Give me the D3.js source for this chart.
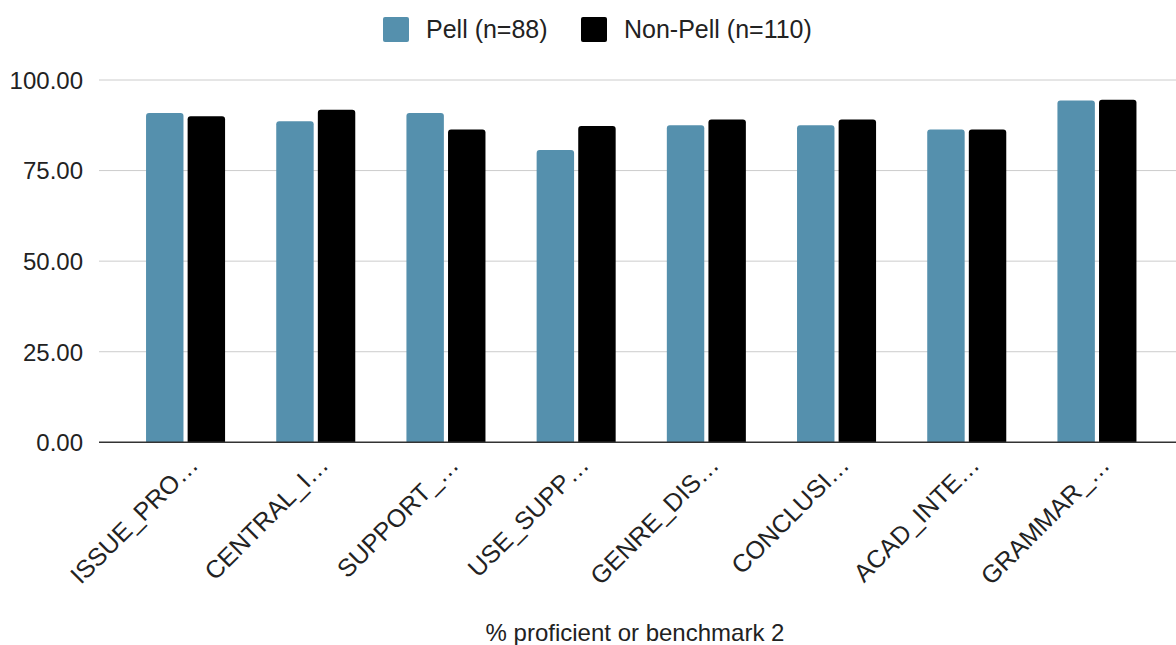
<!DOCTYPE html>
<html>
<head>
<meta charset="utf-8">
<script src="https://cdn.jsdelivr.net/npm/d3@7"></script>
<style>
  html, body { margin: 0; padding: 0; background: #fff; }
  svg { display: block; font-family: "Liberation Sans", Arial, Helvetica, sans-serif; }
</style>
</head>
<body>
<svg id="chart" width="1176" height="645"></svg>
<script>
const categories = ["ISSUE_PRO…", "CENTRAL_I…", "SUPPORT_…", "USE_SUPP…", "GENRE_DIS…", "CONCLUSI…", "ACAD_INTE…", "GRAMMAR_…"];
const seriesNames = ["Pell (n=88)", "Non-Pell (n=110)"];
const pellValues = [90.91, 88.64, 90.91, 80.68, 87.50, 87.50, 86.36, 94.32];
const nonPellValues = [90.00, 91.82, 86.36, 87.27, 89.09, 89.09, 86.36, 94.55];
const yTicks = [0, 25, 50, 75, 100];
const xTitle = "% proficient or benchmark 2";
const colors = ["#5590ad", "#000000"];

const svg = d3.select("#chart");
const plotLeft = 99, plotRight = 1176, baseY = 442.3, topY = 80;
const fontFam = "Liberation Sans, Arial, Helvetica, sans-serif";

const y = d3.scaleLinear().domain([0, 100]).range([baseY, topY]);
const x0 = d3.scaleBand().domain(categories).range([120, 1162.5]).paddingInner(0.393).paddingOuter(0.2);
const x1 = d3.scaleBand().domain(seriesNames).range([0, x0.bandwidth()]).paddingInner(0.1);
const color = d3.scaleOrdinal().domain(seriesNames).range(colors);

// gridlines
svg.append("g").selectAll("line").data(yTicks.filter(t => t > 0)).join("line")
  .attr("x1", plotLeft).attr("x2", plotRight)
  .attr("y1", d => y(d)).attr("y2", d => y(d))
  .attr("stroke", "#cccccc").attr("stroke-width", 1);

// y tick labels
const yAxis = d3.axisLeft(y).tickValues(yTicks).tickFormat(d3.format(".2f")).tickSize(0).tickPadding(0);
const yg = svg.append("g").attr("transform", `translate(83,0)`).call(yAxis);
yg.select(".domain").remove();
yg.selectAll("text").attr("font-size", 24).attr("fill", "#222").attr("font-family", fontFam).attr("dy", "0.35em");

// bars
function topRounded(x, yTop, w, h, r) {
  r = Math.min(r, w / 2, h);
  return `M${x},${yTop + h}V${yTop + r}Q${x},${yTop} ${x + r},${yTop}H${x + w - r}Q${x + w},${yTop} ${x + w},${yTop + r}V${yTop + h}Z`;
}
const rows = categories.map((c, i) => ({ cat: c, vals: [
  { s: seriesNames[0], v: pellValues[i] },
  { s: seriesNames[1], v: nonPellValues[i] }
]}));
const groups = svg.append("g").selectAll("g").data(rows).join("g")
  .attr("transform", d => `translate(${x0(d.cat)},0)`);
groups.selectAll("path").data(d => d.vals).join("path")
  .attr("d", d => topRounded(x1(d.s), y(d.v), x1.bandwidth(), baseY - y(d.v), 3))
  .attr("fill", d => color(d.s));

// baseline
svg.append("line").attr("x1", plotLeft).attr("x2", plotRight)
  .attr("y1", baseY).attr("y2", baseY).attr("stroke", "#333").attr("stroke-width", 1.5);

// x labels
const xAxis = d3.axisBottom(x0).tickSize(0).tickPadding(0);
const xg = svg.append("g").attr("transform", `translate(0,${baseY})`).call(xAxis);
xg.select(".domain").remove();
xg.selectAll("text")
  .attr("font-size", 25).attr("fill", "#222").attr("font-family", fontFam)
  .attr("text-anchor", "end")
  .attr("transform", "translate(8,18) rotate(-45)")
  .attr("dy", "0.35em").attr("y", 0);

// x title
svg.append("text").attr("x", 635).attr("y", 641).attr("text-anchor", "middle")
  .attr("font-size", 24).attr("font-family", fontFam).attr("fill", "#222").text(xTitle);

// legend
const legendItems = [{ s: seriesNames[0], x: 383 }, { s: seriesNames[1], x: 581 }];
const lg = svg.append("g").selectAll("g").data(legendItems).join("g")
  .attr("transform", d => `translate(${d.x},17)`);
lg.append("rect").attr("width", 26).attr("height", 25).attr("rx", 2).attr("fill", d => color(d.s));
lg.append("text").attr("x", 43).attr("y", 21).attr("font-size", 25).attr("font-family", fontFam).attr("fill", "#222").text(d => d.s);
</script>
</body>
</html>
